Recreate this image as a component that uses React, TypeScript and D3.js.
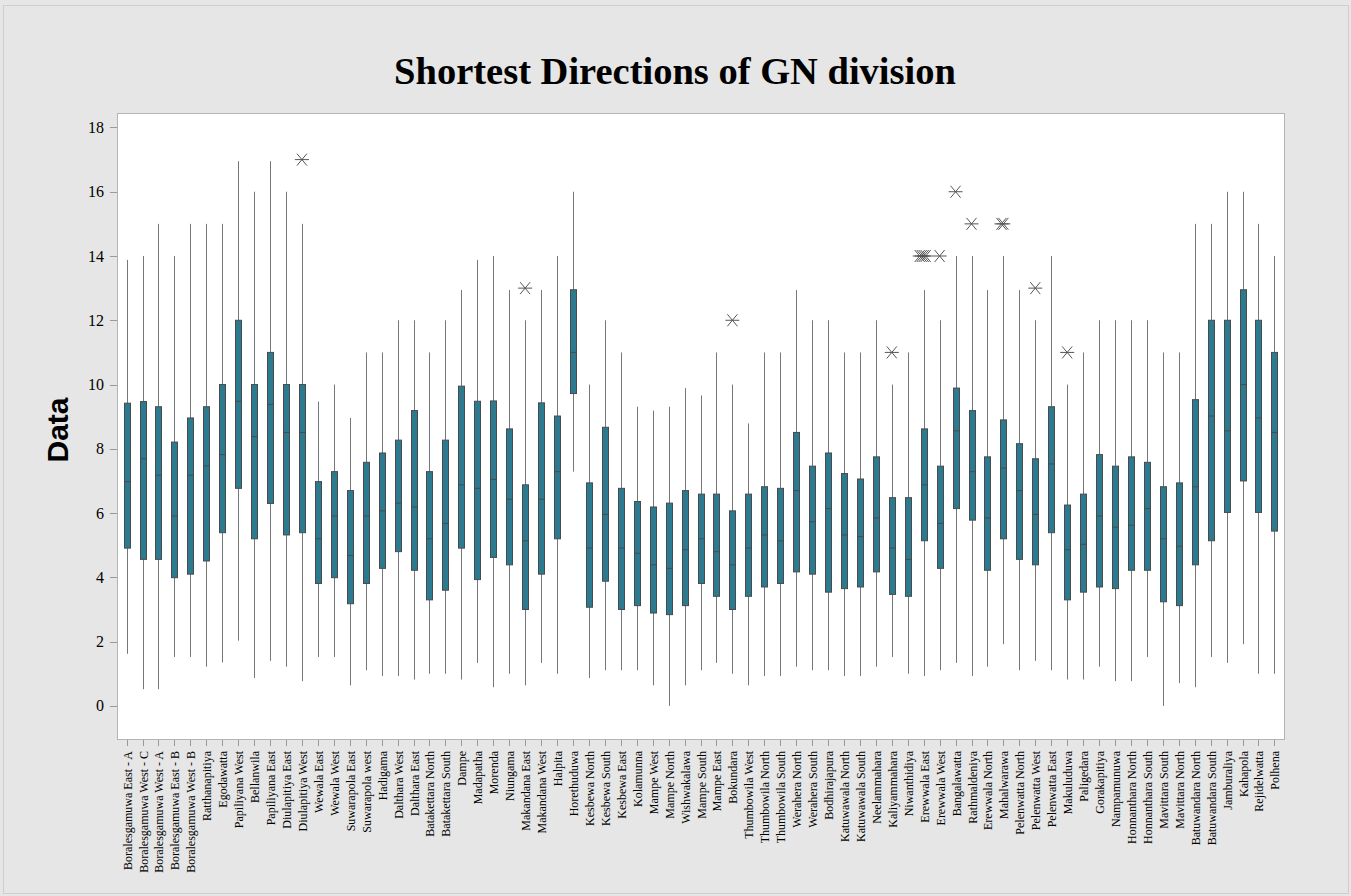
import React, { useEffect } from "react";
import * as d3 from "d3";

const categories: string[] = [
  "Boralesgamuwa East - A", "Boralesgamuwa West - C", "Boralesgamuwa West - A", "Boralesgamuwa East - B",
  "Boralesgamuwa West - B", "Ratthanapitiya", "Egodawatta", "Papiliyana West", "Bellanwila", "Papiliyana East",
  "Diulapitiya East", "Diulapitiya West", "Wewala East", "Wewala West", "Suwarapola East", "Suwarapola west",
  "Hadigama", "Dalthara West", "Dalthara East", "Batakettara North", "Batakettara South", "Dampe", "Madapatha",
  "Morenda", "Niungama", "Makandana East", "Makandana West", "Halpita", "Horethuduwa", "Kesbewa North",
  "Kesbewa South", "Kesbewa East", "Kolamunna", "Mampe West", "Mampe North", "Wishwakalawa", "Mampe South",
  "Mampe East", "Bokundara", "Thumbowila West", "Thumbowila North", "Thumbowila South", "Werahera North",
  "Werahera South", "Bodhirajapura", "Katuwawala North", "Katuwawala South", "Neelammahara", "Kaliyammahara",
  "Niwanthidiya", "Erewwala East", "Erewwala West", "Bangalawatta", "Rathmaldeniya", "Erewwala North",
  "Mahalwarawa", "Pelenwatta North", "Pelenwatta West", "Pelenwatta East", "Makuluduwa", "Paligedara",
  "Gorakapitiya", "Nampamunuwa", "Honnanthara North", "Honnanthara South", "Mavittara South", "Mavittara North",
  "Batuwandara North", "Batuwandara South", "Jamburaliya", "Kahapola", "Rejidelwatta", "Polhena",
];

const whiskerLow: number[] = [
  1.62, 0.52, 0.52, 1.52, 1.52, 1.22, 1.35, 2.03, 0.87, 1.4,
  1.22, 0.77, 1.52, 1.52, 0.64, 1.11, 0.93, 0.93, 0.82, 1.0,
  1.0, 0.82, 1.34, 0.58, 1.0, 0.64, 1.34, 1.0, 7.29, 0.87,
  1.11, 1.11, 1.11, 0.64, 0.0, 0.64, 1.11, 1.34, 1.0, 0.64,
  0.93, 0.93, 1.22, 1.11, 1.11, 0.93, 0.93, 1.22, 1.52, 1.0,
  0.93, 1.11, 1.34, 0.93, 1.22, 1.92, 1.11, 1.4, 1.11, 0.82,
  0.82, 1.22, 0.77, 0.77, 1.52, 0.0, 0.71, 0.58, 1.52, 1.34,
  1.92, 1.0, 1.0,
];

const q1: number[] = [
  4.91, 4.56, 4.56, 3.99, 4.1, 4.51, 5.39, 6.77, 5.2, 6.3,
  5.32, 5.39, 3.81, 3.99, 3.18, 3.81, 4.28, 4.8, 4.22, 3.3,
  3.6, 4.91, 3.93, 4.62, 4.39, 3.0, 4.1, 5.2, 9.72, 3.07,
  3.88, 3.0, 3.12, 2.89, 2.84, 3.12, 3.81, 3.41, 3.0, 3.41,
  3.7, 3.81, 4.17, 4.1, 3.54, 3.65, 3.7, 4.17, 3.47, 3.41,
  5.14, 4.28, 6.14, 5.78, 4.22, 5.2, 4.56, 4.39, 5.39, 3.3,
  3.54, 3.7, 3.65, 4.22, 4.22, 3.24, 3.12, 4.39, 5.14, 6.02,
  7.0, 6.02, 5.44,
];

const medians: number[] = [
  6.98, 7.69, 7.18, 5.91, 7.18, 7.47, 7.82, 9.48, 8.38, 9.38,
  8.51, 8.51, 5.2, 5.91, 4.68, 5.91, 6.07, 6.31, 6.19, 5.2,
  5.68, 6.88, 6.77, 7.05, 6.43, 5.14, 6.43, 7.29, 11.0, 4.91,
  5.96, 4.91, 4.75, 4.39, 4.28, 4.86, 5.2, 4.8, 4.39, 4.91,
  5.32, 5.14, 6.7, 5.73, 6.14, 5.32, 5.27, 5.85, 4.91, 4.56,
  6.88, 5.68, 8.56, 7.29, 5.85, 7.4, 6.7, 5.96, 7.53, 4.86,
  5.03, 5.91, 5.56, 5.62, 6.14, 5.2, 4.97, 6.82, 9.02, 8.56,
  10.0, 8.96, 8.51,
];

const q3: number[] = [
  9.42, 9.47, 9.31, 8.21, 8.96, 9.31, 10.0, 12.0, 10.0, 11.0,
  10.0, 10.0, 6.98, 7.29, 6.7, 7.58, 7.87, 8.27, 9.19, 7.29,
  8.27, 9.95, 9.48, 9.49, 8.62, 6.88, 9.43, 9.02, 12.95, 6.94,
  8.67, 6.77, 6.36, 6.19, 6.31, 6.7, 6.59, 6.59, 6.07, 6.59,
  6.82, 6.77, 8.51, 7.46, 7.87, 7.23, 7.06, 7.75, 6.48, 6.48,
  8.62, 7.46, 9.89, 9.19, 7.75, 8.9, 8.16, 7.69, 9.31, 6.25,
  6.59, 7.82, 7.46, 7.75, 7.58, 6.82, 6.94, 9.53, 12.0, 12.0,
  12.95, 12.0, 11.0,
];

const whiskerHigh: number[] = [
  13.88, 14, 15, 14, 15, 15, 15, 16.95, 16, 16.95,
  16, 15, 9.47, 10, 8.96, 11, 11, 12, 12, 11,
  12, 12.94, 13.88, 14, 12.94, 12, 12.94, 14, 16, 10,
  12, 11, 9.31, 9.19, 9.31, 9.89, 9.66, 11, 10, 8.79,
  11, 11, 12.94, 12, 12, 11, 11, 12, 10, 11,
  12.94, 12, 14, 14, 12.94, 14, 12.94, 12, 14, 10,
  11, 12, 12, 12, 12, 11, 11, 15, 15, 16,
  16, 15, 14,
];

const outlierGroups: { category: string; values: number[] }[] = [
  { category: "Diulapitiya West", values: [17] },
  { category: "Makandana East", values: [13] },
  { category: "Bokundara", values: [12] },
  { category: "Kaliyammahara", values: [11] },
  { category: "Erewwala East", values: [14, 14, 14, 14] },
  { category: "Erewwala West", values: [14] },
  { category: "Bangalawatta", values: [16] },
  { category: "Rathmaldeniya", values: [15] },
  { category: "Mahalwarawa", values: [15, 15] },
  { category: "Pelenwatta West", values: [13] },
  { category: "Makuluduwa", values: [11] },
];

const yTicks: number[] = [0, 2, 4, 6, 8, 10, 12, 14, 16, 18];

const W = 1351;
const H = 896;
const plot = { left: 117, right: 1284, top: 113, bottom: 739 };
const BOX_FILL = "#2b7a90";
const BOX_STROKE = "#4a4a4a";
const SERIF = "'Liberation Serif', 'Times New Roman', serif";

export default function App() {
  useEffect(() => {
    document.body.style.margin = "0";
  }, []);

  const x = d3.scalePoint<string>().domain(categories).range([plot.left, plot.right]).padding(0.6);
  const y = d3.scaleLinear().domain([-1.03, 18.45]).range([plot.bottom, plot.top]);
  const bw = 6;
  const star = (cx: number, cy: number) => {
    const p = d3.path();
    p.moveTo(cx - 7, cy);
    p.lineTo(cx + 7, cy);
    p.moveTo(cx - 5, cy - 6);
    p.lineTo(cx + 5, cy + 6);
    p.moveTo(cx - 5, cy + 6);
    p.lineTo(cx + 5, cy - 6);
    return p.toString();
  };

  return (
    <svg width={W} height={H} style={{ display: "block" }}>
      <rect x={0} y={0} width={W} height={H} fill="#e6e6e6" />
      <rect x={3.5} y={5.5} width={W - 6} height={H - 8} fill="none" stroke="#cfcfcf" />
      <text x={675} y={84} textAnchor="middle" fontFamily={SERIF} fontWeight="bold" fontSize={38.5} fill="#000">
        Shortest Directions of GN division
      </text>
      <text
        transform={`translate(68, ${(plot.top + plot.bottom) / 2 + 4}) rotate(-90)`}
        textAnchor="middle"
        fontFamily="'Liberation Sans', Arial, sans-serif"
        fontWeight="bold"
        fontSize={30}
        fill="#000"
      >
        Data
      </text>
      <rect
        x={plot.left + 0.5}
        y={plot.top + 0.5}
        width={plot.right - plot.left}
        height={plot.bottom - plot.top}
        fill="#fff"
        stroke="#b4b4b4"
      />
      {yTicks.map((t) => (
        <g key={t}>
          <line x1={plot.left - 7} x2={plot.left} y1={Math.round(y(t)) + 0.5} y2={Math.round(y(t)) + 0.5} stroke="#999" />
          <text x={plot.left - 13} y={y(t) + 5.5} textAnchor="end" fontFamily={SERIF} fontSize={16} fill="#000">
            {t}
          </text>
        </g>
      ))}
      {categories.map((c) => {
        const cx = Math.round(x(c)!) + 0.5;
        return (
          <g key={c}>
            <line x1={cx} x2={cx} y1={plot.bottom + 1} y2={plot.bottom + 7} stroke="#999" />
            <text
              transform={`translate(${cx + 4}, ${plot.bottom + 12}) rotate(-90)`}
              textAnchor="end"
              fontFamily={SERIF}
              fontSize={12}
              fill="#000"
            >
              {c}
            </text>
          </g>
        );
      })}
      {categories.map((c, i) => {
        const cx = Math.round(x(c)!) + 0.5;
        return (
          <g key={"b" + c}>
            <line x1={cx} x2={cx} y1={y(whiskerHigh[i])} y2={y(q3[i])} stroke="#777" strokeWidth={1} />
            <line x1={cx} x2={cx} y1={y(q1[i])} y2={y(whiskerLow[i])} stroke="#777" strokeWidth={1} />
            <rect
              x={cx - bw / 2}
              y={y(q3[i])}
              width={bw}
              height={y(q1[i]) - y(q3[i])}
              fill={BOX_FILL}
              stroke={BOX_STROKE}
              strokeWidth={1}
            />
            <line x1={cx - bw / 2} x2={cx + bw / 2} y1={y(medians[i])} y2={y(medians[i])} stroke={BOX_STROKE} />
          </g>
        );
      })}
      {outlierGroups.map((g) =>
        g.values.map((v, j) => {
          const n = g.values.length;
          const off = n > 1 ? (j - (n - 1) / 2) * 2 - 1 : 0;
          return (
            <path
              key={g.category + j}
              d={star(x(g.category)! + off, y(v))}
              stroke="#555"
              strokeWidth={1}
              fill="none"
            />
          );
        })
      )}
    </svg>
  );
}
